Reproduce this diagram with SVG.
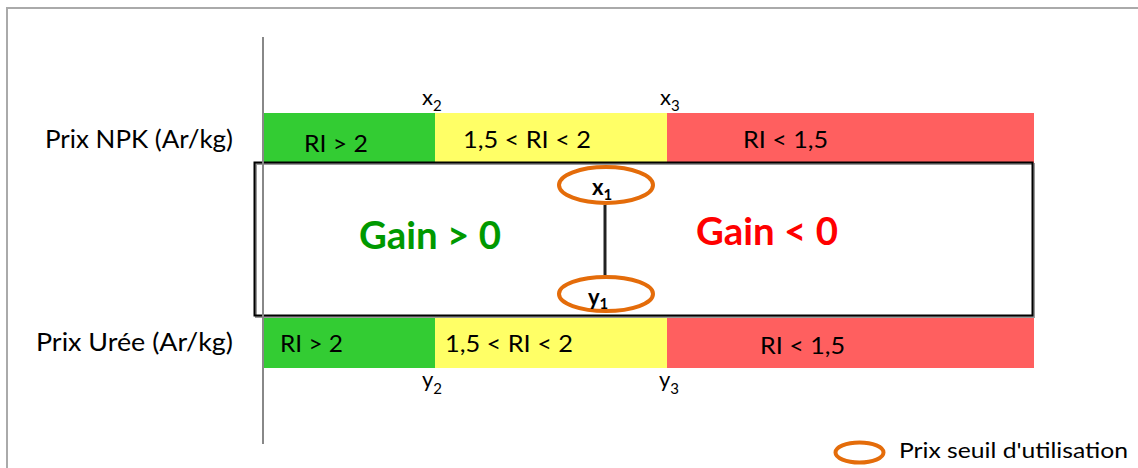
<svg xmlns="http://www.w3.org/2000/svg" width="1138" height="468" viewBox="0 0 1138 468">
<style>
text{font-family:Lato,"Liberation Sans",sans-serif;fill:#000}
.lbl{font-size:25px}
.ri{font-size:24px}
.var{font-size:22px}
.sub{font-size:15px}
.gain{font-size:38px;font-weight:bold}
.bold{font-weight:bold}
.thr{fill:none;stroke:#E46C0A;stroke-width:4}
.g{fill:#33CC33}.y{fill:#FFFF66}.r{fill:#FF5F5F}
</style>
<rect x="0" y="0" width="1138" height="468" fill="#fff"/>
<rect x="7" y="8" width="1200" height="520" fill="none" stroke="#aaa" stroke-width="2"/>
<g id="npk-bar">
<rect class="g" x="263" y="113" width="172" height="50"/>
<rect class="y" x="435" y="113" width="232" height="50"/>
<rect class="r" x="667" y="113" width="367" height="50"/>
<text class="ri" x="304" y="152" textLength="64" lengthAdjust="spacingAndGlyphs">RI &gt; 2</text>
<text class="ri" x="463" y="148" textLength="128" lengthAdjust="spacingAndGlyphs">1,5 &lt; RI &lt; 2</text>
<text class="ri" x="743" y="148" textLength="85" lengthAdjust="spacingAndGlyphs">RI &lt; 1,5</text>
</g>
<g id="uree-bar">
<rect class="g" x="263" y="318" width="172" height="50"/>
<rect class="y" x="435" y="318" width="232" height="50"/>
<rect class="r" x="667" y="318" width="367" height="50"/>
<text class="ri" x="280" y="352" textLength="63" lengthAdjust="spacingAndGlyphs">RI &gt; 2</text>
<text class="ri" x="445" y="352" textLength="128" lengthAdjust="spacingAndGlyphs">1,5 &lt; RI &lt; 2</text>
<text class="ri" x="760" y="354" textLength="85" lengthAdjust="spacingAndGlyphs">RI &lt; 1,5</text>
</g>
<g id="gain-box">
<rect x="256" y="164" width="778" height="153" fill="none" stroke="#999" stroke-width="2"/>
<rect x="254.5" y="162.5" width="778" height="153" fill="none" stroke="#000" stroke-width="2"/>
<text class="gain" x="359" y="249" style="fill:#009900" textLength="142" lengthAdjust="spacingAndGlyphs">Gain &gt; 0</text>
<text class="gain" x="696" y="245" style="fill:#FF0000" textLength="142" lengthAdjust="spacingAndGlyphs">Gain &lt; 0</text>
</g>
<line x1="263" y1="37" x2="263" y2="444" stroke="#888" stroke-width="2"/>
<g id="labels">
<text class="lbl" x="45" y="148" textLength="188" lengthAdjust="spacingAndGlyphs">Prix NPK (Ar/kg)</text>
<text class="lbl" x="36" y="351" textLength="197" lengthAdjust="spacingAndGlyphs">Prix Urée (Ar/kg)</text>
<text class="var" x="422" y="105">x<tspan class="sub" dy="6">2</tspan></text>
<text class="var" x="660" y="105">x<tspan class="sub" dy="6">3</tspan></text>
<text class="var" x="422" y="387">y<tspan class="sub" dy="7">2</tspan></text>
<text class="var" x="659" y="387">y<tspan class="sub" dy="7">3</tspan></text>
</g>
<g id="connectors">
<line x1="605" y1="205" x2="605" y2="275" stroke="#222" stroke-width="3"/>
</g>
<g id="x1">
<ellipse class="thr" cx="606" cy="185" rx="47" ry="18"/>
<text class="var bold" x="592" y="195">x<tspan class="sub" dy="5">1</tspan></text>
</g>
<g id="y1">
<ellipse class="thr" cx="606" cy="294" rx="47" ry="17"/>
<text class="var bold" x="588" y="305">y<tspan class="sub" dy="4">1</tspan></text>
</g>
<g id="legend">
<ellipse class="thr" cx="859.5" cy="452.5" rx="24" ry="10"/>
<text class="var" x="899" y="458" textLength="229" lengthAdjust="spacingAndGlyphs">Prix seuil d'utilisation</text>
</g>
</svg>
